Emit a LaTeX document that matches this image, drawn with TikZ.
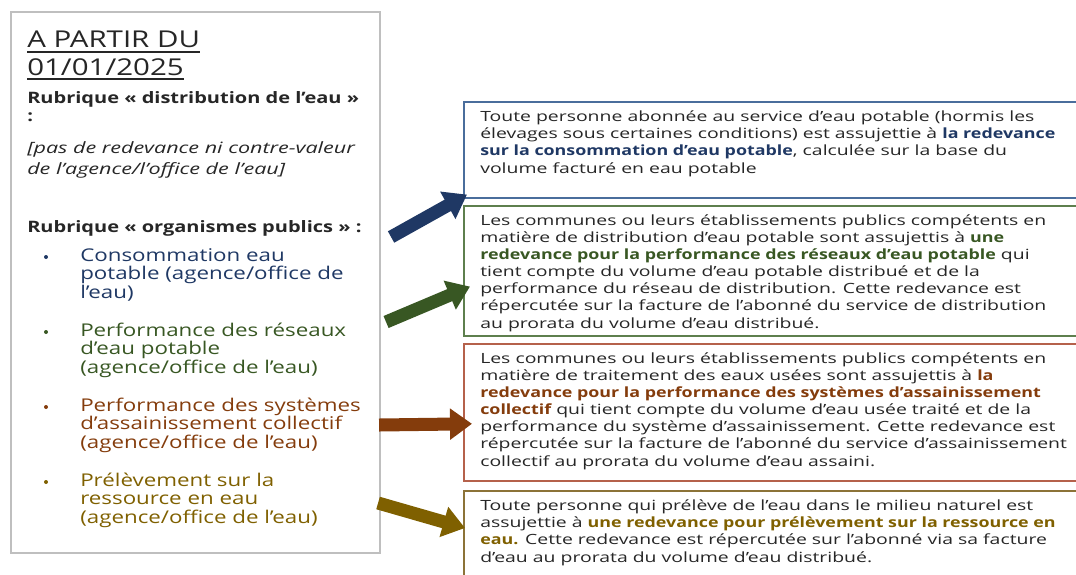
\documentclass[tikz,border=0pt]{standalone}
\usepackage{fontspec}
\setmainfont{Open Sans}[FakeStretch=1.38,BoldFeatures={FakeStretch=1.27}]
\newfontfamily\largefont{Open Sans}[FakeStretch=1.27]
\usetikzlibrary{arrows.meta,calc}
\definecolor{cdark}{HTML}{262626}
\definecolor{cgray}{HTML}{BFBFBF}
\definecolor{cblue}{HTML}{1F3864}
\definecolor{cbluel}{HTML}{4A6D9C}
\definecolor{cgreen}{HTML}{385723}
\definecolor{cgreenl}{HTML}{5E7F4E}
\definecolor{cbrown}{HTML}{843C0C}
\definecolor{cbrownl}{HTML}{B5614B}
\definecolor{colive}{HTML}{7F6000}
\definecolor{colivel}{HTML}{8C7338}
\newsavebox{\titrebox}
\newcommand{\souligne}[1]{\sbox{\titrebox}{#1}\rlap{\rule[-3.6pt]{\wd\titrebox}{1.4pt}}\usebox{\titrebox}}
\newcommand{\fort}[2]{{\bfseries\color{#1}#2}}
\begin{document}
\begin{tikzpicture}[x=0.025cm,y=-0.025cm,
  box/.style={draw=#1,line width=1.1pt,inner sep=0pt,anchor=north west,minimum width=16cm},
  arr/.style={draw=#1,line width=0.325cm,-{Triangle[length=0.55cm,width=0.75cm]}},
  txt/.style={anchor=base west,inner sep=0pt,align=left,text=cdark,font=\fontsize{10}{12.1}\selectfont},
  item/.style={anchor=base west,inner sep=0pt,align=left,text=#1,font=\largefont\fontsize{12.5}{13.1}\selectfont}]
\clip (0,0) rectangle (1076,574);

\node[draw=cgray,line width=1.4pt,inner sep=0pt,anchor=north west,minimum width=9.225cm,minimum height=13.525cm] (lbox) at (10,11) {};
\node[anchor=base west,inner sep=0pt,align=left,text=cdark,font=\largefont\fontsize{16.5}{19.4}\selectfont] (titre) at (27,75) {\souligne{A PARTIR DU}\\\souligne{01/01/2025}};
\node[anchor=base west,inner sep=0pt,align=left,text=cdark,font=\bfseries\fontsize{11.2}{12.4}\selectfont] (rub1) at (27,121) {Rubrique « distribution de l’eau »\\:};
\node[anchor=base west,inner sep=0pt,align=left,text=cdark,font=\itshape\fontsize{11.1}{14.6}\selectfont] (rien) at (27,174) {[pas de redevance ni contre-valeur\\de l’agence/l’office de l’eau]};
\node[anchor=base west,inner sep=0pt,align=left,text=cdark,font=\bfseries\fontsize{11.2}{12.4}\selectfont] (rub2) at (27,232) {Rubrique « organismes publics » :};

\node[item=cblue] (i1) at (80,298) {Consommation eau\\potable (agence/office de\\l’eau)};
\node[item=cgreen] (i2) at (80,373) {Performance des réseaux\\d’eau potable\\(agence/office de l’eau)};
\node[item=cbrown] (i3) at (80,448) {Performance des systèmes\\d’assainissement collectif\\(agence/office de l’eau)};
\node[item=colive] (i4) at (80,523) {Prélèvement sur la\\ressource en eau\\(agence/office de l’eau)};
\fill[cblue] ($(i1.base west)+(-34,-41)$) circle (2);
\fill[cgreen] ($(i2.base west)+(-34,-41)$) circle (2);
\fill[cbrown] ($(i3.base west)+(-34,-41)$) circle (2);
\fill[colive] ($(i4.base west)+(-34,-41)$) circle (2);

\node[box=cbluel,minimum height=2.4cm] (b1) at (463,101) {};
\node[box=cgreenl,minimum height=3.25cm] (b2) at (463,205) {};
\node[box=cbrownl,minimum height=3.425cm] (b3) at (463,343) {};
\node[box=colivel,minimum height=2.5cm] (b4) at (463,490) {};

\node[txt] (t1) at (480,173) {Toute personne abonnée au service d’eau potable (hormis les\\
élevages sous certaines conditions) est assujettie à \fort{cblue}{la redevance}\\
\fort{cblue}{sur la consommation d’eau potable}, calculée sur la base du\\
volume facturé en eau potable};
\node[txt] (t2) at (480,328) {Les communes ou leurs établissements publics compétents en\\
matière de distribution d’eau potable sont assujettis à \fort{cgreen}{une}\\
\fort{cgreen}{redevance pour la performance des réseaux d’eau potable} qui\\
tient compte du volume d’eau potable distribué et de la\\
performance du réseau de distribution. Cette redevance est\\
répercutée sur la facture de l’abonné du service de distribution\\
au prorata du volume d’eau distribué.};
\node[txt] (t3) at (480,466) {Les communes ou leurs établissements publics compétents en\\
matière de traitement des eaux usées sont assujettis à \fort{cbrown}{la}\\
\fort{cbrown}{redevance pour la performance des systèmes d’assainissement}\\
\fort{cbrown}{collectif} qui tient compte du volume d’eau usée traité et de la\\
performance du système d’assainissement. Cette redevance est\\
répercutée sur la facture de l’abonné du service d’assainissement\\
collectif au prorata du volume d’eau assaini.};
\node[txt] (t4) at (480,562) {Toute personne qui prélève de l’eau dans le milieu naturel est\\
assujettie à \fort{colive}{une redevance pour prélèvement sur la ressource en}\\
\fort{colive}{eau.} Cette redevance est répercutée sur l’abonné via sa facture\\
d’eau au prorata du volume d’eau distribué.};

\draw[arr=cblue] ($(lbox.north east)+(10,226)$) -- ($(b1.south west)+(4,-4)$);
\draw[arr=cgreen] ($(lbox.north east)+(5,311)$) -- ($(b2.south west)+(7,-50)$);
\draw[arr=cbrown] ($(lbox.north east)+(-2,414)$) -- ($(b3.west)+(9,11.5)$);
\draw[arr=colive] ($(lbox.north east)+(-3,492)$) -- ($(b4.north west)+(2,38)$);
\end{tikzpicture}
\end{document}
